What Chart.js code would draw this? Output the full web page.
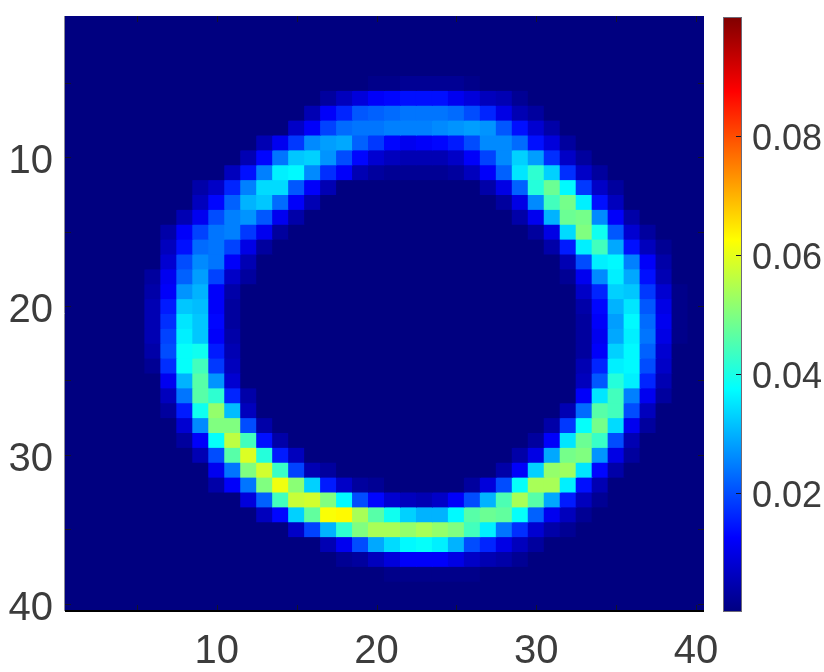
<!DOCTYPE html>
<html>
<head>
<meta charset="utf-8">
<title>Ring heatmap</title>
<script src="https://cdn.jsdelivr.net/npm/chart.js@4"></script>
<style>
  html, body { margin: 0; background: #fff; overflow: hidden; }
  canvas { position: absolute; top: 0; }
  #heatChart { left: 0; }
  #barChart { left: 712px; }
</style>
</head>
<body>
<canvas id="heatChart" width="824" height="672"></canvas>
<canvas id="barChart" width="112" height="672"></canvas>
<script>
// axis setup
const GRID_SIZE = 40;
const X_TICK_VALUES = [10, 20, 30, 40];
const Y_TICK_VALUES = [10, 20, 30, 40];
const TICK_MARKS = [5, 10, 15, 20, 25, 30, 35, 40];
const BAR_TICK_VALUES = [0.02, 0.04, 0.06, 0.08];
const BAR_MIN = 0;
const BAR_MAX = 0.1;
const TEXT_COLOR = '#3c3c3c';
const TICK_COLOR = '#14142a';

// cell values in units of 0.001: [row, first column, values]
// every cell not listed is the background (0)
const RING_CELLS = [
  [5, 20, [1,1,2,2,2,2,1]],
  [6, 17, [3,6,9,12,13,14,14,14,11,9,6,5,2]],
  [7, 16, [5,12,16,21,22,23,24,24,24,23,20,16,10,5,3]],
  [8, 15, [7,12,19,23,24,24,25,25,25,26,27,28,27,21,14,8,4]],
  [9, 13, [5,11,18,26,28,29,22,18,13,11,12,13,15,20,26,26,23,14,9,3]],
  [10, 12, [5,13,24,32,33,27,20,13,8,6,5,5,5,7,12,19,26,33,28,17,7,3]],
  [11, 11, [6,14,25,36,37,26,17,12,5,3,2,2,2,2,3,6,12,22,35,42,33,17,7,3]],
  [12, 9, [4,7,16,25,34,34,21,12,5]], [12, 27, [4,10,22,41,48,37,18,7,3]],
  [13, 9, [6,13,22,30,32,23,12,5]], [13, 28, [3,10,26,44,49,36,14,6]],
  [14, 8, [5,11,20,25,27,21,11,4]], [14, 29, [4,11,30,48,49,26,12,4]],
  [15, 7, [4,12,19,24,25,18,11,3]], [15, 30, [3,10,34,50,39,21,8,3]],
  [16, 7, [6,14,23,24,19,10,3]], [16, 31, [4,15,36,44,29,14,6,2]],
  [17, 7, [8,20,26,24,12,5]], [17, 32, [5,20,36,37,25,12,4]],
  [18, 6, [3,11,22,28,19,7,3]], [18, 32, [2,11,26,36,29,14,5]],
  [19, 6, [4,12,27,30,12,4]], [19, 33, [7,16,33,32,18,8,1]],
  [20, 6, [5,15,32,31,12,3]], [20, 33, [4,13,30,35,21,10,1]],
  [21, 6, [5,17,35,32,13,3]], [21, 33, [3,12,28,37,23,11,1]],
  [22, 6, [5,19,36,32,12,4]], [22, 33, [3,11,29,36,24,10,1]],
  [23, 6, [4,20,38,39,15,5]], [23, 33, [3,12,33,37,22,8]],
  [24, 6, [2,17,38,44,18,6]], [24, 33, [5,16,36,37,20,7]],
  [25, 7, [11,30,46,27,8]], [25, 33, [6,21,41,36,16,5]],
  [26, 7, [6,24,46,42,16,4]], [26, 33, [12,35,44,25,11,3]],
  [27, 7, [3,15,39,52,31,6]], [27, 32, [5,23,46,44,20,6]],
  [28, 8, [8,26,50,50,20,4]], [28, 31, [4,18,38,49,34,11,3]],
  [29, 8, [3,12,38,56,44,14,4]], [29, 30, [3,12,35,48,43,20,5]],
  [30, 9, [5,20,46,59,41,15,6]], [30, 29, [4,10,29,49,50,27,10,3]],
  [31, 10, [11,24,50,58,43,19,5,3]], [31, 28, [4,12,33,52,53,35,13,4]],
  [32, 10, [4,12,24,50,61,51,33,15,7,3,2]], [32, 26, [3,9,20,38,54,54,36,14,5]],
  [33, 12, [9,22,44,57,58,50,37,20,13,8,6,5,7,12,20,30,45,54,46,29,15,6,2]],
  [34, 13, [6,13,33,47,62,63,54,46,39,33,30,30,37,46,48,47,38,22,11,6,2]],
  [35, 15, [7,19,30,42,50,54,54,52,54,52,50,44,36,24,17,8,4,2]],
  [36, 17, [5,11,20,29,34,37,38,36,30,20,16,10,6,3]],
  [37, 18, [2,3,6,9,12,12,12,10,7,5,4,2]],
  [38, 21, [1,1,1,1,1,1]]
];

const labels = [];
for (let i = 1; i <= GRID_SIZE; i++) labels.push(i);

// row -> column -> value
const grid = labels.map(() => new Array(GRID_SIZE).fill(0));
RING_CELLS.forEach(([row, col, values]) => {
  values.forEach((v, i) => { grid[row - 1][col - 1 + i] = v * 0.001; });
});

function jetColor(value) {
  const t = (value - BAR_MIN) / (BAR_MAX - BAR_MIN);
  const ch = c => Math.round(255 * Math.max(0, Math.min(1, 1.5 - Math.abs(4 * t - c))));
  return `rgb(${ch(3)},${ch(2)},${ch(1)})`;
}

// labels may stick out of the plot box, so no overhang padding
function noOverhang(s) {
  s.paddingLeft = 0;
  s.paddingRight = 0;
  s.paddingTop = 0;
  s.paddingBottom = 0;
}

// one floating-bar dataset per row
const heatDatasets = grid.map((rowValues, r) => ({
  data: rowValues.map(() => [r + 0.5, r + 1.5]),
  backgroundColor: rowValues.map(jetColor),
  borderWidth: 0,
  inflateAmount: 0.5,
  grouped: false,
  barPercentage: 1,
  categoryPercentage: 1
}));

// short inward ticks like the original figure
const boxTicks = {
  id: 'boxTicks',
  afterDatasetsDraw(chart) {
    const { ctx, chartArea: a, scales: { x, y } } = chart;
    ctx.save();
    ctx.strokeStyle = TICK_COLOR;
    ctx.lineWidth = 1;
    ctx.beginPath();
    TICK_MARKS.forEach(v => {
      const px = Math.round(x.getPixelForValue(v - 1)) + 0.5;
      const py = Math.round(y.getPixelForValue(v)) + 0.5;
      ctx.moveTo(px, a.bottom); ctx.lineTo(px, a.bottom - 6);
      ctx.moveTo(px, a.top); ctx.lineTo(px, a.top + 6);
      ctx.moveTo(a.left, py); ctx.lineTo(a.left + 6, py);
      ctx.moveTo(a.right, py); ctx.lineTo(a.right - 6, py);
    });
    ctx.stroke();
    // grey edge on the left, black one along the bottom
    ctx.strokeStyle = '#8a8a96';
    ctx.beginPath();
    ctx.moveTo(a.left - 0.5, a.top);
    ctx.lineTo(a.left - 0.5, a.bottom);
    ctx.stroke();
    ctx.strokeStyle = '#000';
    ctx.lineWidth = 2;
    ctx.beginPath();
    ctx.moveTo(a.left, a.bottom);
    ctx.lineTo(a.right, a.bottom);
    ctx.stroke();
    ctx.restore();
  }
};

new Chart(document.getElementById('heatChart'), {
  type: 'bar',
  data: { labels: labels, datasets: heatDatasets },
  plugins: [boxTicks],
  options: {
    responsive: false,
    animation: false,
    layout: { padding: { top: 16, right: 120, left: 0, bottom: 0 } },
    plugins: { legend: { display: false }, tooltip: { enabled: false } },
    scales: {
      x: {
        afterFit: s => { s.height = 61; noOverhang(s); },
        grid: { display: false, drawTicks: false },
        border: { display: false },
        ticks: {
          autoSkip: false,
          maxRotation: 0,
          padding: 17,
          color: TEXT_COLOR,
          font: { family: '"Liberation Sans"', size: 40 },
          callback(value) {
            const lab = this.getLabelForValue(value);
            return X_TICK_VALUES.includes(lab) ? String(lab) : '';
          }
        }
      },
      y: {
        reverse: true,
        min: 0.5,
        max: 40.5,
        afterFit: s => { s.width = 65; noOverhang(s); },
        afterBuildTicks: s => { s.ticks = Y_TICK_VALUES.map(v => ({ value: v })); },
        grid: { display: false, drawTicks: false },
        border: { display: false },
        ticks: {
          padding: 12,
          labelOffset: 5,
          color: TEXT_COLOR,
          font: { family: '"Liberation Sans"', size: 40 }
        }
      }
    }
  }
});

// colour bar
const barTicks = {
  id: 'barTicks',
  afterDatasetsDraw(chart) {
    const { ctx, chartArea: a, scales: { y } } = chart;
    ctx.save();
    ctx.strokeStyle = TICK_COLOR;
    ctx.lineWidth = 1;
    ctx.beginPath();
    BAR_TICK_VALUES.forEach(v => {
      const py = Math.round(y.getPixelForValue(v)) + 0.5;
      ctx.moveTo(a.right, py); ctx.lineTo(a.right - 6, py);
    });
    ctx.stroke();
    ctx.strokeStyle = '#6e6a78';
    ctx.strokeRect(a.left + 0.5, a.top + 0.5, a.width - 1, a.height - 1);
    ctx.restore();
  }
};

new Chart(document.getElementById('barChart'), {
  type: 'bar',
  data: {
    labels: [''],
    datasets: [{
      data: [[BAR_MIN, BAR_MAX]],
      borderWidth: 0,
      barPercentage: 1,
      categoryPercentage: 1,
      backgroundColor(c) {
        const a = c.chart.chartArea;
        if (!a) return '#000080';
        const g = c.chart.ctx.createLinearGradient(0, a.bottom, 0, a.top);
        for (let i = 0; i <= 32; i++) {
          g.addColorStop(i / 32, jetColor(BAR_MIN + (BAR_MAX - BAR_MIN) * i / 32));
        }
        return g;
      }
    }]
  },
  plugins: [barTicks],
  options: {
    responsive: false,
    animation: false,
    layout: { padding: { top: 17, bottom: 60, left: 11, right: 0 } },
    plugins: { legend: { display: false }, tooltip: { enabled: false } },
    scales: {
      x: { display: false },
      y: {
        position: 'right',
        min: BAR_MIN,
        max: BAR_MAX,
        afterFit: s => { s.width = 82; noOverhang(s); },
        afterBuildTicks: s => { s.ticks = BAR_TICK_VALUES.map(v => ({ value: v })); },
        grid: { display: false, drawTicks: false },
        border: { display: false },
        ticks: {
          padding: 10,
          labelOffset: 4,
          color: TEXT_COLOR,
          font: { family: '"Liberation Sans"', size: 36 },
          callback: v => v.toFixed(2)
        }
      }
    }
  }
});
</script>
</body>
</html>
